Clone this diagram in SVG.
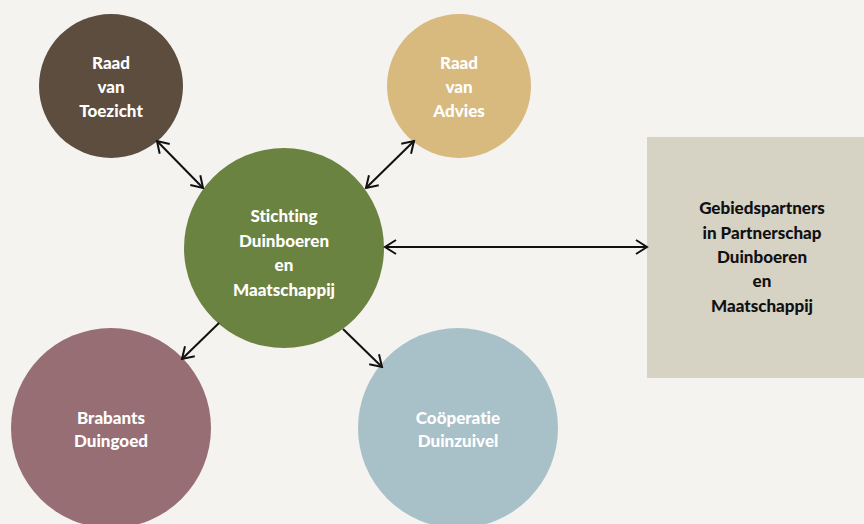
<svg xmlns="http://www.w3.org/2000/svg" width="864" height="524" viewBox="0 0 864 524">
<style>
.lbl{font-family:Lato,"Open Sans","Liberation Sans",sans-serif;font-weight:900;font-size:17px;text-anchor:middle;font-variant-ligatures:none;font-feature-settings:"liga" 0,"dlig" 0}
.w{fill:#ffffff}
.k{fill:#111111}
.c{stroke:#111111;stroke-width:2;fill:none;marker-end:url(#ah)}
.d{marker-start:url(#ah)}
</style>
<defs>
<marker id="ah" viewBox="0 0 14 16" markerWidth="14" markerHeight="16" refX="12" refY="8" orient="auto-start-reverse" markerUnits="userSpaceOnUse">
<path d="M1,1 L12,8 L1,15" fill="none" stroke="#111111" stroke-width="2"/>
</marker>
</defs>
<rect width="864" height="524" fill="#f4f3ef"/>
<g id="toezicht">
<circle cx="111" cy="86" r="72" fill="#5c4d3f"/>
<text class="lbl w" x="111" y="69">Raad</text>
<text class="lbl w" x="111" y="93">van</text>
<text class="lbl w" x="111" y="117">Toezicht</text>
</g>
<g id="advies">
<circle cx="459" cy="86" r="72" fill="#d8b97e"/>
<text class="lbl w" x="459" y="69">Raad</text>
<text class="lbl w" x="459" y="93">van</text>
<text class="lbl w" x="459" y="117">Advies</text>
</g>
<g id="stichting">
<circle cx="284" cy="248" r="100" fill="#6b8341"/>
<text class="lbl w" x="284" y="222">Stichting</text>
<text class="lbl w" x="284" y="247">Duinboeren</text>
<text class="lbl w" x="284" y="271">en</text>
<text class="lbl w" x="284" y="296">Maatschappij</text>
</g>
<g id="brabants">
<circle cx="111" cy="428" r="100" fill="#966e74"/>
<text class="lbl w" x="111" y="424">Brabants</text>
<text class="lbl w" x="111" y="447">Duingoed</text>
</g>
<g id="cooperatie">
<circle cx="458" cy="428" r="100" fill="#a8c1c8"/>
<text class="lbl w" x="458" y="424">Coöperatie</text>
<text class="lbl w" x="458" y="447">Duinzuivel</text>
</g>
<g id="gebiedspartners">
<rect x="647" y="137" width="217" height="241" fill="#d6d3c4"/>
<text class="lbl k" x="762" y="214">Gebiedspartners</text>
<text class="lbl k" x="762" y="239">in Partnerschap</text>
<text class="lbl k" x="762" y="263">Duinboeren</text>
<text class="lbl k" x="762" y="287">en</text>
<text class="lbl k" x="762" y="312">Maatschappij</text>
</g>
<g id="connectors">
<line class="c d" x1="157" y1="141" x2="203" y2="188"/>
<line class="c d" x1="414" y1="141" x2="366" y2="188"/>
<line class="c d" x1="385" y1="247" x2="647" y2="247"/>
<line class="c" x1="219" y1="323" x2="182" y2="359"/>
<line class="c" x1="343" y1="329" x2="382" y2="367"/>
</g>
</svg>
